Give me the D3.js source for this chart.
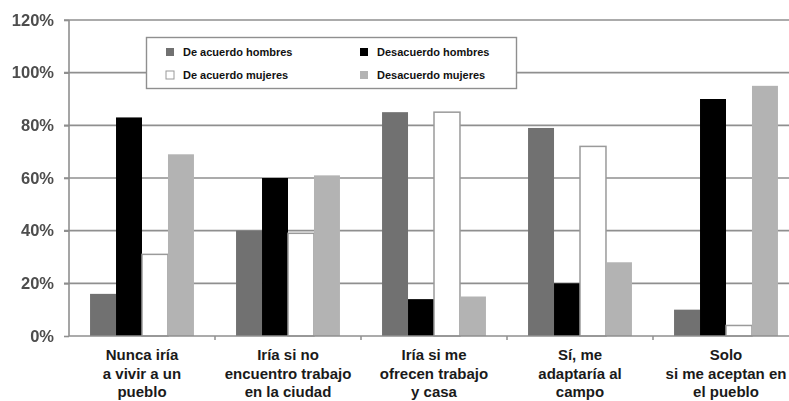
<!DOCTYPE html>
<html>
<head>
<meta charset="utf-8">
<script src="https://cdn.jsdelivr.net/npm/d3@7"></script>
<style>
  html, body { margin: 0; padding: 0; background: #fff; }
  svg { display: block; }
</style>
</head>
<body>
<svg id="chart" width="789" height="401"></svg>
<script>
// Survey answers by sex, share of respondents per statement
const categories = [
  ["Nunca iría", "a vivir a un", "pueblo"],
  ["Iría si no", "encuentro trabajo", "en la ciudad"],
  ["Iría si me", "ofrecen trabajo", "y casa"],
  ["Sí, me", "adaptaría al", "campo"],
  ["Solo", "si me aceptan en", "el pueblo"]
];
const seriesNames = ["De acuerdo hombres", "Desacuerdo hombres", "De acuerdo mujeres", "Desacuerdo mujeres"];
const deAcuerdoHombres  = [0.16, 0.40, 0.85, 0.79, 0.10];
const desacuerdoHombres = [0.83, 0.60, 0.14, 0.20, 0.90];
const deAcuerdoMujeres  = [0.31, 0.39, 0.85, 0.72, 0.04];
const desacuerdoMujeres = [0.69, 0.61, 0.15, 0.28, 0.95];
const yTicks = [0, 0.2, 0.4, 0.6, 0.8, 1.0, 1.2];

const seriesValues = [deAcuerdoHombres, desacuerdoHombres, deAcuerdoMujeres, desacuerdoMujeres];
const fills   = ["#717171", "#000000", "#ffffff", "#b3b3b3"];
const strokes = ["none", "none", "#9a9a9a", "none"];

const svg = d3.select("#chart");
const plotLeft = 69, plotTop = 20, plotBottom = 336;
const step = 146;

const x0 = d3.scaleBand()
  .domain(d3.range(categories.length))
  .range([plotLeft, plotLeft + step * categories.length])
  .padding(0);
const x1 = d3.scaleBand()
  .domain(d3.range(seriesNames.length))
  .range([0, x0.bandwidth()])
  .paddingInner(0)
  .paddingOuter(0.81);
const y = d3.scaleLinear().domain([0, 1.2]).range([plotBottom, plotTop]);

// horizontal grid lines
svg.append("g")
  .selectAll("line")
  .data(yTicks.filter(d => d > 0))
  .join("line")
  .attr("x1", plotLeft - 5).attr("x2", 789)
  .attr("y1", d => y(d)).attr("y2", d => y(d))
  .attr("stroke", "#8f8f8f").attr("stroke-width", 1.6);

// y axis
const yAxis = svg.append("g")
  .attr("transform", `translate(${plotLeft},0)`)
  .call(d3.axisLeft(y).tickValues(yTicks).tickSize(5).tickPadding(10)
    .tickFormat(d => Math.round(d * 100) + "%"));
yAxis.select(".domain").remove();
yAxis.selectAll(".tick line").attr("stroke", "#8f8f8f").attr("stroke-width", 1.6);
yAxis.selectAll(".tick text")
  .attr("fill", "#4d4d4d")
  .style("font-family", "'Liberation Sans', Arial, sans-serif")
  .style("font-weight", "bold")
  .style("font-size", "16.5px")
  .style("filter", "blur(0.5px)");

// bars
const groups = svg.append("g")
  .selectAll("g")
  .data(categories.map((c, i) => i))
  .join("g")
  .attr("transform", i => `translate(${x0(i)},0)`);
groups.selectAll("rect")
  .data(i => seriesValues.map((vals, s) => ({ s, v: vals[i] })))
  .join("rect")
  .attr("x", d => x1(d.s))
  .attr("width", x1.bandwidth())
  .attr("y", d => y(d.v))
  .attr("height", d => y(0) - y(d.v))
  .attr("fill", d => fills[d.s])
  .attr("stroke", d => strokes[d.s])
  .attr("stroke-width", 1.5);

// vertical axis line
svg.append("line")
  .attr("x1", plotLeft).attr("x2", plotLeft)
  .attr("y1", y(1.2)).attr("y2", y(0))
  .attr("stroke", "#8f8f8f").attr("stroke-width", 1.6);

// x axis baseline and category ticks
svg.append("line")
  .attr("x1", plotLeft).attr("x2", 789)
  .attr("y1", y(0)).attr("y2", y(0))
  .attr("stroke", "#8f8f8f").attr("stroke-width", 1.6);
svg.append("g")
  .selectAll("line")
  .data(d3.range(1, categories.length))
  .join("line")
  .attr("x1", i => x0(i)).attr("x2", i => x0(i))
  .attr("y1", y(0)).attr("y2", y(0) + 4)
  .attr("stroke", "#8f8f8f").attr("stroke-width", 1.5);

// category labels
const labels = svg.append("g")
  .selectAll("text")
  .data(categories.map((c, i) => ({ c, i })))
  .join("text")
  .attr("text-anchor", "middle")
  .attr("fill", "#1a1a1a")
  .style("font-family", "'Liberation Sans', Arial, sans-serif")
  .style("font-weight", "bold")
  .style("font-size", "15px");
labels.selectAll("tspan")
  .data(d => d.c.map(line => ({ line, i: d.i })))
  .join("tspan")
  .attr("x", d => x0(d.i) + x0.bandwidth() / 2)
  .attr("y", (d, k) => 360 + k * 18.5)
  .text(d => d.line);

// legend
const legend = svg.append("g");
legend.append("rect")
  .attr("x", 146.5).attr("y", 37.5)
  .attr("width", 370).attr("height", 51)
  .attr("fill", "#fff")
  .attr("stroke", "#8f8f8f").attr("stroke-width", 1.4);
const legendPos = [[166, 52], [360, 52], [166, 75], [360, 75]];
const legendItems = legend.selectAll("g")
  .data(seriesNames.map((name, s) => ({ name, s })))
  .join("g")
  .attr("transform", d => `translate(${legendPos[d.s][0]},${legendPos[d.s][1]})`);
legendItems.append("rect")
  .attr("x", 0).attr("y", -4)
  .attr("width", 8).attr("height", 8)
  .attr("fill", d => fills[d.s])
  .attr("stroke", d => strokes[d.s])
  .attr("stroke-width", 1);
legendItems.append("text")
  .attr("x", 17).attr("y", 4)
  .attr("fill", "#111")
  .style("font-family", "'Liberation Sans', Arial, sans-serif")
  .style("font-weight", "bold")
  .style("font-size", "11px")
  .text(d => d.name);
</script>
</body>
</html>
